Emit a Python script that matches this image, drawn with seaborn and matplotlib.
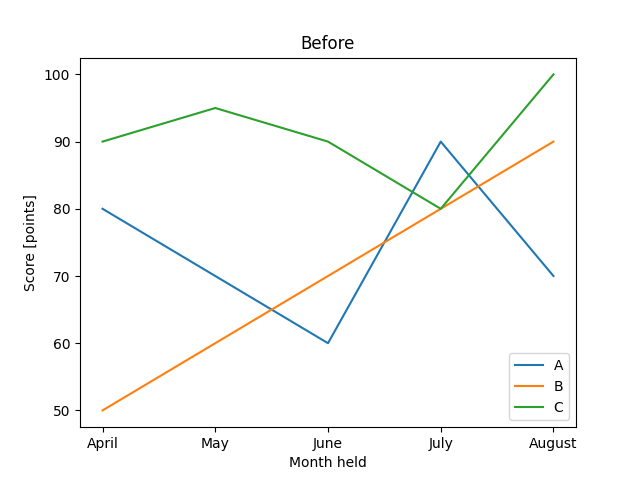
import matplotlib
matplotlib.use("Agg")
import matplotlib.pyplot as plt
import seaborn as sns
import pandas as pd

months = ["April", "May", "June", "July", "August"]
series_a = [80, 70, 60, 90, 70]
series_b = [50, 60, 70, 80, 90]
series_c = [90, 95, 90, 80, 100]
names = ["A", "B", "C"]

rows = []
for name, vals in zip(names, [series_a, series_b, series_c]):
    for m, v in zip(months, vals):
        rows.append({"Month": m, "Score": v, "Series": name})
df = pd.DataFrame(rows)

fig, ax = plt.subplots(figsize=(6.4, 4.8), dpi=100)
sns.lineplot(data=df, x="Month", y="Score", hue="Series", ax=ax,
             palette=["#1f77b4", "#ff7f0e", "#2ca02c"], sort=False)
ax.set_title("Before")
ax.set_xlabel("Month held")
ax.set_ylabel("Score [points]")
ax.legend(loc="lower right")
fig.savefig("out.png", dpi=100)
